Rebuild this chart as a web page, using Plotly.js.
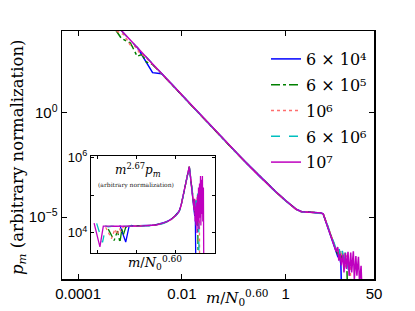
<!DOCTYPE html>
<html>
<head>
<meta charset="utf-8">
<script src="https://cdn.plot.ly/plotly-3.0.1.min.js"></script>
<style>html,body{margin:0;padding:0;background:#fff;}#chart{width:415px;height:311px;}</style>
</head>
<body>
<div id="chart"></div>
<script>
// Legend labels (N0 values)
const LABELS = ['6 × 10⁴', '6 × 10⁵', '10⁶', '6 × 10⁶', '10⁷'];

// Compensated distribution m^2.67 p_m (arbitrary normalization, as in the inset), vs m/N0^0.60
// Shared middle range
const M_MID = [0.00631, 0.01, 0.0158, 0.0251, 0.0398, 0.0631, 0.1, 0.158, 0.251, 0.398, 0.631, 1, 1.26, 1.58, 2.0, 2.51, 3.16, 3.98, 4.79, 5.25, 6.03, 7.24, 8.71];
const C_MID = [15100, 15100, 15100, 15200, 15500, 15800, 16200, 17000, 18200, 20000, 22900, 28200, 31600, 37200, 53700, 95500, 170000, 295000, 479000, 562000, 316000, 141000, 56200];
const C_MID_BLUE = [15300, 15300, 15300, 15400, 15700, 16000, 16500, 17400, 18600, 20400, 23400, 28800, 32400, 38000, 55000, 98000, 175000, 300000, 480000, 550000, 300000, 130000, 52000];
const C_MID_CYAN = [14900, 14900, 14900, 15000, 15300, 15600, 16000, 16700, 17800, 19600, 22400, 27500, 30800, 36300, 52500, 93000, 166000, 290000, 475000, 570000, 325000, 145000, 58000];

// N0 = 6e4
const BLUE_M_HEAD = [1.36e-3, 2.72e-3, 4.08e-3, 5.43e-3];
const BLUE_C_HEAD = [15800, 5750, 15100, 15800];
const BLUE_M_TAIL = [9.33, 10.0, 10.7, 11.5, 12.3];
const BLUE_C_TAIL = [45000, 28000, 40000, 18000, 30];

// N0 = 6e5
const GREEN_M_HEAD = [3.41e-4, 6.83e-4, 1.02e-3, 1.37e-3, 1.71e-3, 2.05e-3, 2.73e-3, 3.98e-3];
const GREEN_C_HEAD = [12600, 6310, 11200, 5620, 12600, 8910, 14100, 15100];
const GREEN_M_TAIL = [9.33, 10.0, 10.7, 11.5, 12.3, 13.2, 14.1, 15.1, 16.2];
const GREEN_C_TAIL = [50000, 35000, 60000, 25000, 70000, 30000, 55000, 15000, 50];

// N0 = 1e6
const PINK_M_HEAD = [2.51e-4, 5.02e-4, 7.54e-4, 1.0e-3, 1.26e-3, 1.51e-3, 2.01e-3, 2.51e-3, 3.98e-3];
const PINK_C_HEAD = [14100, 7080, 12600, 8910, 13200, 11200, 14100, 14800, 15100];
const PINK_M_TAIL = [9.33, 10.0, 10.7, 11.5, 12.3, 13.2, 14.1, 15.1, 16.2, 17.4, 18.6];
const PINK_C_TAIL = [48000, 70000, 30000, 80000, 28000, 90000, 22000, 100000, 30000, 60000, 40];

// N0 = 6e6
const CYAN_M_HEAD = [8.58e-5, 1.72e-4, 2.57e-4, 3.43e-4, 5.15e-4, 6.86e-4, 1.03e-3, 1.58e-3, 2.51e-3, 3.98e-3];
const CYAN_C_HEAD = [17800, 5620, 15100, 14500, 15000, 14800, 14900, 14900, 14900, 14900];
const CYAN_M_TAIL = [9.33, 10.0, 10.7, 11.5, 12.3, 13.2, 14.1, 15.1, 16.2, 17.4];
const CYAN_C_TAIL = [52000, 40000, 75000, 30000, 90000, 25000, 110000, 35000, 20000, 30];

// N0 = 1e7
const MAG_M_HEAD = [6.31e-5, 1.26e-4, 1.89e-4, 2.52e-4, 3.15e-4, 3.79e-4, 5.05e-4, 6.31e-4, 9.46e-4, 1.26e-3, 1.58e-3, 2.51e-3, 3.98e-3];
const MAG_C_HEAD = [18200, 4270, 15100, 15300, 15000, 15200, 15100, 15000, 15100, 15100, 15100, 15100, 15100];
const MAG_M_TAIL = [9.33, 10.0, 10.5, 11.2, 11.7, 12.6, 13.2, 14.1, 14.8, 15.8, 16.6, 17.8, 18.6, 20.0, 20.9, 22.4, 23.4, 25.1, 26.3, 28.2, 29.5, 30.9];
const MAG_C_TAIL = [39800, 79400, 20000, 50100, 15800, 63100, 10000, 100000, 20000, 158000, 12600, 200000, 25100, 316000, 15800, 251000, 31600, 316000, 20000, 158000, 7940, 10];

const EXPONENT = 2.67;      // compensation exponent shown in inset
const NORM = 4.68e8;        // ratio between the two arbitrary normalizations

const COLORS = ['rgb(0,0,255)', 'rgb(0,128,0)', 'rgb(255,110,110)', 'rgb(0,191,191)', 'rgb(191,0,191)'];
const DASHES = ['solid', 'dashdot', 'dot', 'dash', 'solid'];

const series = [
  {m: BLUE_M_HEAD.concat(M_MID, BLUE_M_TAIL), c: BLUE_C_HEAD.concat(C_MID_BLUE, BLUE_C_TAIL)},
  {m: GREEN_M_HEAD.concat(M_MID, GREEN_M_TAIL), c: GREEN_C_HEAD.concat(C_MID, GREEN_C_TAIL)},
  {m: PINK_M_HEAD.concat(M_MID, PINK_M_TAIL), c: PINK_C_HEAD.concat(C_MID, PINK_C_TAIL)},
  {m: CYAN_M_HEAD.concat(M_MID, CYAN_M_TAIL), c: CYAN_C_HEAD.concat(C_MID_CYAN, CYAN_C_TAIL)},
  {m: MAG_M_HEAD.concat(M_MID, MAG_M_TAIL), c: MAG_C_HEAD.concat(C_MID, MAG_C_TAIL)}
];

const traces = [];
series.forEach((s, i) => {
  const pm = s.m.map((m, j) => s.c[j] / Math.pow(m, EXPONENT) / NORM);
  traces.push({
    x: s.m, y: pm, type: 'scatter', mode: 'lines', name: LABELS[i],
    legendgroup: 'g' + i,
    line: {color: COLORS[i], dash: DASHES[i], width: 1.5},
    xaxis: 'x', yaxis: 'y'
  });
});
series.forEach((s, i) => {
  traces.push({
    x: s.m, y: s.c, type: 'scatter', mode: 'lines', showlegend: false,
    legendgroup: 'g' + i,
    line: {color: COLORS[i], dash: DASHES[i], width: 1.3},
    xaxis: 'x2', yaxis: 'y2'
  });
});

const L = 62, R = 374, T = 31, B = 279;
const px = v => (v - L) / (R - L);
const py = v => (B - v) / (B - T);
const serif = 'DejaVu Serif';
const sans = 'Liberation Sans';

const layout = {
  width: 415, height: 311, autosize: false,
  margin: {l: L, r: 415 - R, t: T, b: 311 - B, pad: 0},
  paper_bgcolor: '#fff', plot_bgcolor: '#fff',
  showlegend: true,
  legend: {
    x: px(266), y: py(42), xanchor: 'left', yanchor: 'top',
    bgcolor: 'rgba(0,0,0,0)', borderwidth: 0,
    font: {family: serif, size: 16, color: '#000'},
    tracegroupgap: 2
  },
  xaxis: {
    type: 'log', range: [-4.31, 1.699], domain: [0, 1], anchor: 'y',
    tickvals: [1e-4, 1e-2, 1, 50], ticktext: ['0.0001', '0.01', '1', '50'],
    ticks: 'inside', ticklen: 5, tickwidth: 1, tickcolor: '#000',
    showline: true, linecolor: '#000', linewidth: 1.5, mirror: 'ticks',
    showgrid: false, zeroline: false,
    tickfont: {family: sans, size: 15, color: '#000'}
  },
  yaxis: {
    type: 'log', range: [-7.98, 3.94], domain: [0, 1], anchor: 'x',
    tickvals: [1, 1e-5], ticktext: ['10<sup>0</sup>', '10<sup>−5</sup>'],
    ticks: 'inside', ticklen: 5, tickwidth: 1, tickcolor: '#000',
    showline: true, linecolor: '#000', linewidth: 1.5, mirror: 'ticks',
    showgrid: false, zeroline: false,
    tickfont: {family: sans, size: 15, color: '#000'}
  },
  xaxis2: {
    type: 'log', range: [-4.36, 2.05], domain: [px(91), px(215)], anchor: 'y2',
    tickvals: [1e-4, 1e-2, 1], showticklabels: false,
    ticks: 'inside', ticklen: 3, tickwidth: 1, tickcolor: '#000',
    showline: true, linecolor: '#000', linewidth: 1.2, mirror: 'ticks',
    showgrid: false, zeroline: false
  },
  yaxis2: {
    type: 'log', range: [3.47, 6.03], domain: [py(253), py(156)], anchor: 'x2',
    tickvals: [1e4, 1e5, 1e6], ticktext: ['10<sup>4</sup>', '', '10<sup>6</sup>'],
    ticks: 'inside', ticklen: 3, tickwidth: 1, tickcolor: '#000',
    showline: true, linecolor: '#000', linewidth: 1.2, mirror: 'ticks',
    showgrid: false, zeroline: false,
    tickfont: {family: sans, size: 13, color: '#000'}
  },
  annotations: [
    {xref: 'paper', yref: 'paper', x: px(18), y: py(157), textangle: -90, showarrow: false,
     xanchor: 'center', yanchor: 'middle',
     text: '<i>p<sub>m</sub></i> (arbitrary normalization)', font: {family: serif, size: 16.5, color: '#000'}},
    {xref: 'paper', yref: 'paper', x: px(237), y: py(297), showarrow: false,
     xanchor: 'center', yanchor: 'middle',
     text: '<i>m</i>/<i>N</i><sub>0</sub><sup>0.60</sup>', font: {family: serif, size: 15, color: '#000'}},
    {xref: 'paper', yref: 'paper', x: px(155), y: py(263), showarrow: false,
     xanchor: 'center', yanchor: 'middle',
     text: '<i>m</i>/<i>N</i><sub>0</sub><sup>0.60</sup>', font: {family: serif, size: 13, color: '#000'}},
    {xref: 'paper', yref: 'paper', x: px(138), y: py(170), showarrow: false,
     xanchor: 'center', yanchor: 'middle',
     text: '<i>m</i><sup>2.67</sup><i>p<sub>m</sub></i>', font: {family: serif, size: 12, color: '#000'}},
    {xref: 'paper', yref: 'paper', x: px(136), y: py(185), showarrow: false,
     xanchor: 'center', yanchor: 'middle',
     text: '(arbitrary normalization)', font: {family: serif, size: 6, color: '#222'}}
  ]
};

Plotly.newPlot('chart', traces, layout, {staticPlot: true, displayModeBar: false});
</script>
</body>
</html>
